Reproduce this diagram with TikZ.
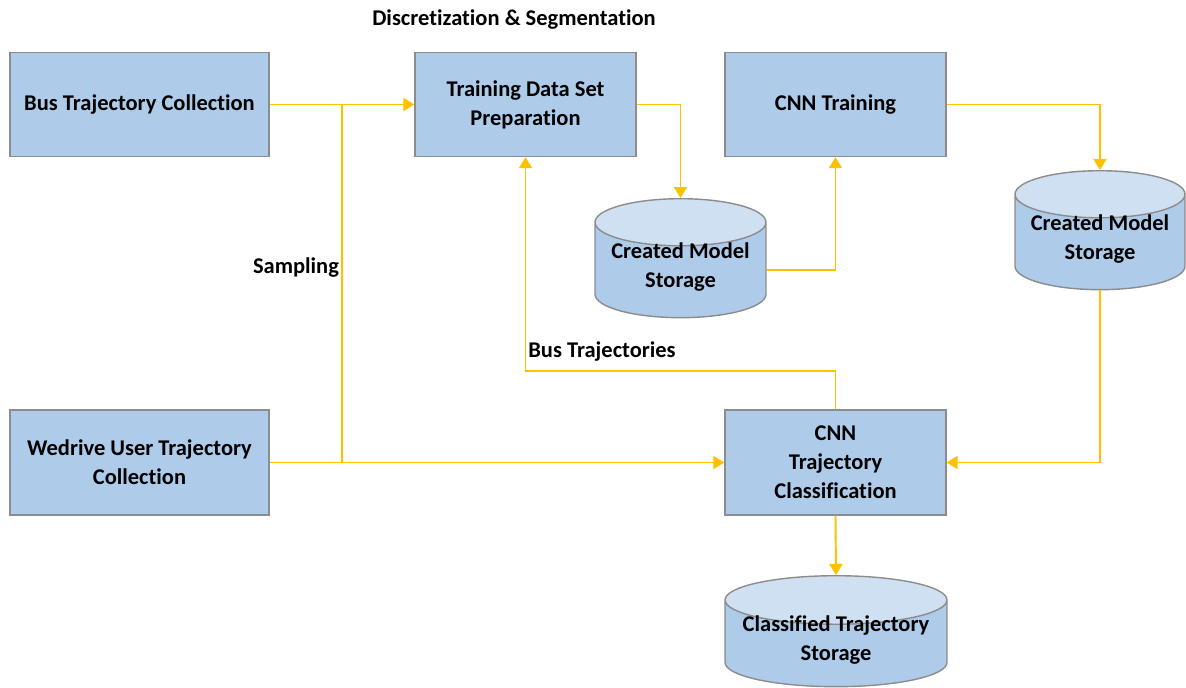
\documentclass[tikz,border=0pt]{standalone}
\usepackage{fontspec}
\setmainfont{Carlito}[Ligatures=NoCommon]
\usepackage{tikz}
\usetikzlibrary{arrows.meta}
\usetikzlibrary{positioning}
\usetikzlibrary{shapes.geometric}

\definecolor{boxfill}{HTML}{AECBE9}
\definecolor{boxtop}{HTML}{CFE0F2}
\definecolor{boxline}{HTML}{8C8C8C}
\definecolor{flowcol}{HTML}{FFC000}

\begin{document}
\begin{tikzpicture}[x=0.02cm,y=-0.02cm,
		font=\fontsize{12.8}{16.5}\selectfont\bfseries,
		stage/.style={draw=boxline,line width=0.8pt,fill=boxfill,align=center,minimum height=2.08cm},
		store/.style={cylinder,shape border rotate=90,aspect=0.34,draw=boxline,line width=0.8pt,inner sep=0pt,
			text height=19.2pt,text depth=0pt,
			cylinder uses custom fill,cylinder body fill=boxfill,cylinder end fill=boxtop,align=center,anchor=north},
		flow/.style={color=flowcol,line width=1.1pt,-{Triangle[length=2.2mm,width=2.6mm]}},
		link/.style={color=flowcol,line width=1.1pt}]
		\useasboundingbox (0,0) rectangle (1186,687);
		
		\node[stage,minimum width=5.18cm] (bus) at (139.5,104.5) {Bus Trajectory Collection};
		\node[stage,minimum width=4.42cm] (train) at (525.5,104.5) {Training Data Set\\Preparation};
		\node[stage,minimum width=4.42cm] (cnn) at (835.5,104.5) {CNN Training};
		\node[stage,minimum width=5.18cm,minimum height=2.1cm] (wed) at (139.5,462.5) {Wedrive User Trajectory\\Collection};
		\node[stage,minimum width=4.42cm,minimum height=2.1cm] (cls) at (835.5,462.5) {CNN\\Trajectory\\Classification};
		
		\node[store,minimum width=3.42cm,minimum height=2.38cm] (db1) at (680.5,198) {Created Model\\Storage};
		\node[store,minimum width=3.4cm,minimum height=2.38cm] (db2) at (1100,170) {Created Model\\Storage};
		\node[store,aspect=0.26,minimum width=4.44cm,minimum height=2.22cm] (db3) at (836,575) {Classified Trajectory\\Storage};
		
		\node (disc) at (514,20) {Discretization \& Segmentation};
		\node (samp) at (296,268) {Sampling};
		\node (bt) at (602,352) {Bus Trajectories};
		
		\coordinate (split) at (342,104.5);
		\coordinate (merge) at (342,462.5);
		
		\draw[flow] (bus.east) -- (train.west);
		\draw[link] (split) -- (merge);
		\draw[flow] (wed.east) -- (cls.west);
		\draw[flow] (train.east) -| (db1.north);
		\draw[flow] (db1.east) -| (cnn.south);
		\draw[flow] (cnn.east) -| (db2.north);
		\draw[flow] (db2.south) |- (cls.east);
		\draw[flow] (cls.north) -- ++(0,-38) -| (train.south);
		\draw[flow] (cls.south) -- (db3.north);
	\end{tikzpicture}
\end{document}
